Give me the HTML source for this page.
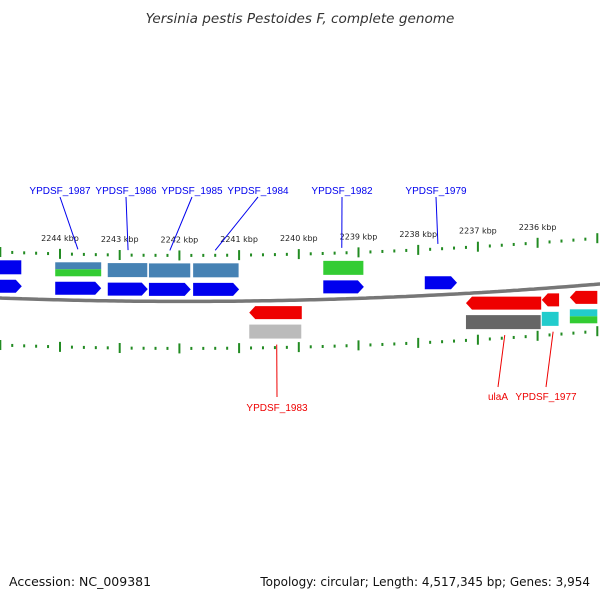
<!DOCTYPE html>
<html><head><meta charset="utf-8"><style>
body{margin:0;background:#fff}
svg{display:block;font-family:"DejaVu Sans","Liberation Sans",sans-serif}
</style></head><body>
<svg id="c" width="600" height="600" viewBox="0 0 600 600">
<text x="300" y="23" text-anchor="middle" font-size="13.6" font-style="italic" fill="#333">Yersinia pestis Pestoides F, complete genome</text>
<text x="9" y="586" font-size="12.5" fill="#111">Accession: NC_009381</text>
<text x="590" y="586" text-anchor="end" font-size="12" fill="#111">Topology: circular; Length: 4,517,345 bp; Genes: 3,954</text>
<g id="g"></g>
</svg>
<script>
const tickKbp=[2244,2243,2242,2241,2240,2239,2238,2237,2236];
const fwdStart=[2245.09,2244.08,2243.20,2242.51,2241.77,2239.59,2237.89];
const fwdEnd=[2244.64,2243.31,2242.53,2241.81,2241.00,2238.91,2237.35];
const fwdFeat=['#0000ee','split','#4682b4','#4682b4','#4682b4','#33cc33','none'];
const revStart=[2240.83,2237.20,2235.93,2235.46];
const revEnd=[2239.95,2235.94,2235.64,2235.00];
const revFeat=['#bbbbbb','#666666','#22cccc','cyan-green'];
const fwdLabels=['YPDSF_1987','YPDSF_1986','YPDSF_1985','YPDSF_1984','YPDSF_1982','YPDSF_1979'];
const fwdLabelX=[60,126,192,258,342,436];
const fwdLabelKbp=[2243.70,2242.86,2242.16,2241.40,2239.28,2237.67];
const revLabels=['YPDSF_1983','ulaA','YPDSF_1977'];
const revLabelX=[277,498,546];
const revLabelKbp=[2240.37,2236.55,2235.74];
const g=document.getElementById('g');
const NS='http://www.w3.org/2000/svg';
const X=k=>60+(2244-k)*59.7;
const Y=x=>298+0.0372*x-1.01e-4*x*x;
function el(t,a){const e=document.createElementNS(NS,t);for(const k in a)e.setAttribute(k,a[k]);g.appendChild(e);return e;}
let d='';for(let x=-2;x<=602;x+=4)d+=(d?'L':'M')+x+','+Y(x).toFixed(1);
let bb=el('path',{d:d,stroke:'#777',"stroke-width":3.5,fill:'none'});

for(let k=2245;k>=2234.9;k-=0.2){const kk=Math.round(k*10)/10;const x=X(kk);if(x<-2||x>602)continue;
 const major=Math.abs(kk-Math.round(kk))<0.01;
 [-46,47].forEach(o=>{const y=Y(x)+o;const t=el('rect',{x:x-1,y:major?y-5:y-1.5,width:2,height:major?10:3,fill:'#228b22'});
 });}
tickKbp.forEach(k=>{const x=X(k);const t=el('text',{x:x,y:Y(x)-59,"text-anchor":"middle","font-size":8,fill:'#222'});t.textContent=k+' kbp';
 });
fwdStart.forEach((s,i)=>{const x1=X(s),x2=X(fwdEnd[i]);const yb=Y((x1+x2)/2);
 const y=yb-12;const a=el('path',{d:`M${x1},${y-6.5}L${x2-6},${y-6.5}L${x2},${y}L${x2-6},${y+6.5}L${x1},${y+6.5}Z`,fill:'#0000ee'});
 
 const f=fwdFeat[i];if(f==='none')return;const fy=yb-38;
 if(f==='split'){const r1=el('rect',{x:x1,y:fy,width:x2-x1,height:7,fill:'#4682b4'});
  const r2=el('rect',{x:x1,y:fy+7,width:x2-x1,height:7,fill:'#33cc33'});}
 else{const r=el('rect',{x:x1,y:fy,width:x2-x1-0.5,height:14,fill:f});}});
revStart.forEach((s,i)=>{const x1=X(s),x2=X(revEnd[i]);const yb=Y((x1+x2)/2);
 const y=yb+12;const a=el('path',{d:`M${x2},${y-6.5}L${x1+6},${y-6.5}L${x1},${y}L${x1+6},${y+6.5}L${x2},${y+6.5}Z`,fill:'#ee0000'});
 
 const f=revFeat[i];const fy=yb+24;
 if(f==='cyan-green'){const r1=el('rect',{x:x1,y:fy,width:x2-x1,height:7,fill:'#22cccc'});
  const r2=el('rect',{x:x1,y:fy+7,width:x2-x1,height:7,fill:'#33cc33'});}
 else{const r=el('rect',{x:x1,y:fy,width:x2-x1-0.5,height:14,fill:f});}});
fwdLabels.forEach((n,i)=>{const lx=fwdLabelX[i];const px=X(fwdLabelKbp[i]);
 const l=el('line',{x1:lx,y1:197,x2:px,y2:Y(px)-51,stroke:'#0000ee',"stroke-width":1});
 const t=el('text',{x:lx,y:194,"text-anchor":"middle","font-size":10,"font-family":"Liberation Sans, sans-serif",fill:'#0000ee'});t.textContent=n;});
revLabels.forEach((n,i)=>{const lx=revLabelX[i];const px=X(revLabelKbp[i]);
 const l=el('line',{x1:px,y1:Y(px)+44,x2:lx,y2:n==='YPDSF_1983'?397:387,stroke:'#ee0000',"stroke-width":1});
 const t=el('text',{x:lx,y:n==='YPDSF_1983'?411:400,"text-anchor":"middle","font-size":10,"font-family":"Liberation Sans, sans-serif",fill:'#ee0000'});t.textContent=n;});
</script>
</body></html>
